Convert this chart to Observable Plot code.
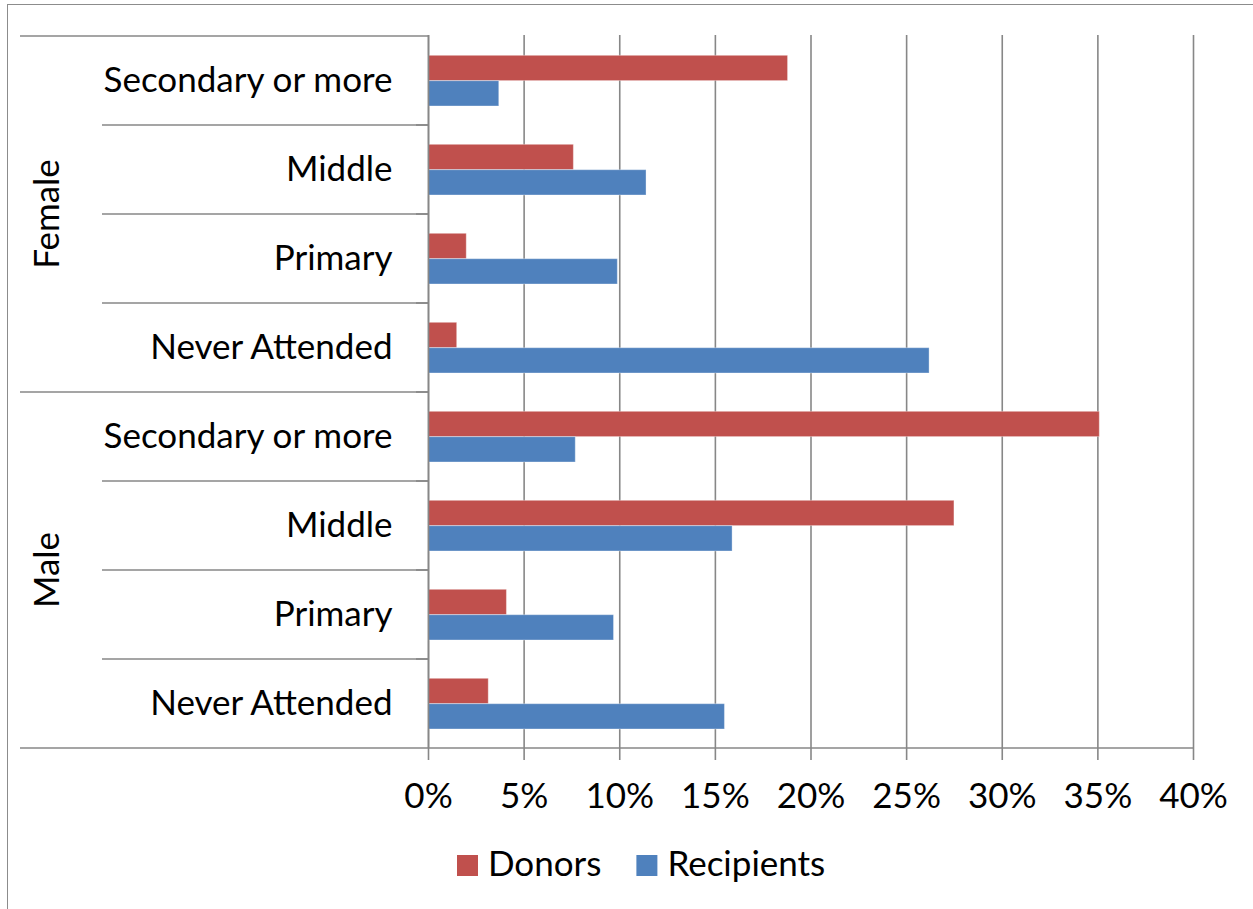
<!DOCTYPE html>
<html><head><meta charset="utf-8">
<script src="https://cdn.jsdelivr.net/npm/d3@7"></script>
<script src="https://cdn.jsdelivr.net/npm/@observablehq/plot@0.6"></script>
<style>
body{margin:0;background:#fff;font-family:Lato,sans-serif}
#wrap{position:relative;width:1253px;height:909px;overflow:hidden;background:#fff}
#frame{position:absolute;left:7px;top:4px;width:1300px;height:1000px;border-left:1.5px solid #8c8c8c;border-top:1.5px solid #8c8c8c;pointer-events:none}
#wrap svg{position:absolute;left:0;top:0}
</style></head><body><div id="wrap"><div id="frame"></div></div>
<script>
// ---- data ----
const genders = ["Female", "Male"];
const levels = ["Secondary or more", "Middle", "Primary", "Never Attended"];
const seriesNames = ["Donors", "Recipients"];
const seriesColors = ["#C0504D", "#4F81BD"];
// values in %, order: Female (Secondary, Middle, Primary, Never), Male (Secondary, Middle, Primary, Never)
const donors = [18.8, 7.6, 2.0, 1.5, 35.1, 27.5, 4.1, 3.15];
const recipients = [3.7, 11.4, 9.9, 26.2, 7.7, 15.9, 9.7, 15.5];
const xTicks = [0, 5, 10, 15, 20, 25, 30, 35, 40];

// ---- build table ----
const keys = [];
genders.forEach(g => levels.forEach(l => keys.push(g + "|" + l)));
const rows = [];
keys.forEach((k, i) => {
  rows.push({key: k, series: "Donors", value: donors[i]});
  rows.push({key: k, series: "Recipients", value: recipients[i]});
});

const gray = "#878787";
const font = "Lato, sans-serif";

const chart = Plot.plot({
  width: 1253,
  height: 909,
  marginLeft: 428,
  marginRight: 60,
  marginTop: 35,
  marginBottom: 161,
  style: {fontFamily: font, fontSize: "35px", color: "#000", background: "transparent", overflow: "visible"},
  x: {domain: [0, 40], label: null},
  y: {domain: keys, padding: 0, axis: null},
  color: {domain: seriesNames, range: seriesColors},
  marks: [
    Plot.gridX(xTicks, {stroke: gray, strokeOpacity: 1, strokeWidth: 1.6}),
    Plot.axisX(xTicks, {tickSize: 12, tickPadding: 23, stroke: gray, strokeWidth: 1.6, tickFormat: d => d + "%", label: null, fontSize: 35, fill: "#000"}),
    Plot.barX(rows.filter(d => d.series === "Donors"), {y: "key", x: "value", fill: "series", insetTop: 19.3, insetBottom: 44.4, stroke: "#fff", strokeOpacity: 0.35, strokeWidth: 1}),
    Plot.barX(rows.filter(d => d.series === "Recipients"), {y: "key", x: "value", fill: "series", insetTop: 44.7, insetBottom: 19, stroke: "#fff", strokeOpacity: 0.35, strokeWidth: 1}),
    Plot.ruleX([0], {stroke: gray, strokeWidth: 1.6}),
    Plot.text(keys, {y: d => d, text: d => d.split("|")[1], frameAnchor: "left", textAnchor: "end", dx: -36, fontSize: 35, fill: "#000"})
  ]
});

document.getElementById("wrap").appendChild(chart);

// ---- table-like category lines, gender labels, legend ----
const svg = d3.select(chart);
const ys = chart.scale("y");
const xs = chart.scale("x");
const bw = ys.bandwidth;
const x0 = xs.apply(0);
const xEnd = xs.apply(40);
const lines = svg.append("g").attr("stroke", gray).attr("stroke-width", 1.6);
// top line
lines.append("line").attr("x1", 20).attr("x2", x0).attr("y1", ys.apply(keys[0])).attr("y2", ys.apply(keys[0]));
keys.forEach((k, i) => {
  const yb = ys.apply(k) + bw;
  const groupEnd = i % levels.length === levels.length - 1;
  const isLast = i === keys.length - 1;
  lines.append("line")
    .attr("x1", groupEnd ? 20 : 102)
    .attr("x2", isLast ? xEnd : x0)
    .attr("y1", yb).attr("y2", yb);
  if (!isLast) {
    lines.append("line").attr("x1", x0 - 12).attr("x2", x0).attr("y1", yb).attr("y2", yb);
  }
});

genders.forEach(g => {
  const first = ys.apply(g + "|" + levels[0]);
  const last = ys.apply(g + "|" + levels[levels.length - 1]) + bw;
  const yc = (first + last) / 2;
  svg.append("text")
    .attr("transform", `translate(59,${yc}) rotate(-90)`)
    .attr("text-anchor", "middle")
    .attr("font-family", font)
    .attr("font-size", 35)
    .attr("fill", "#000")
    .text(g);
});

// legend
const leg = svg.append("g").attr("font-family", font).attr("font-size", 35).attr("text-anchor", "start");
let lx = 457;
seriesNames.forEach((s, i) => {
  leg.append("rect").attr("x", lx).attr("y", 855).attr("width", 21).attr("height", 21).attr("fill", seriesColors[i]);
  const t = leg.append("text").attr("x", lx + 31).attr("y", 876).attr("text-anchor", "start").attr("fill", "#000").text(s);
  const w = t.node().getComputedTextLength();
  lx = lx + 31 + w + 35;
});
</script></body></html>
